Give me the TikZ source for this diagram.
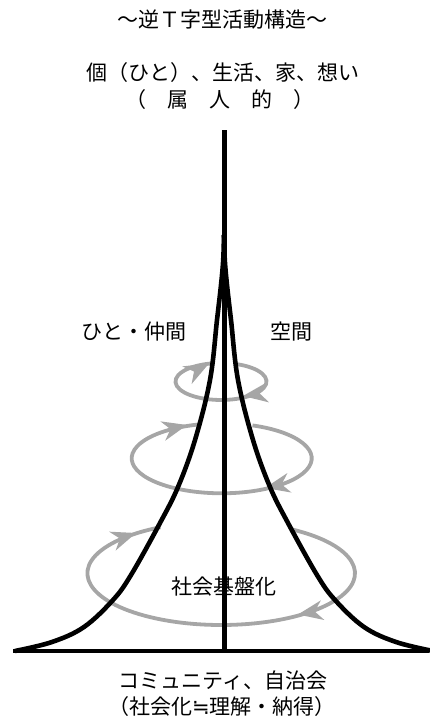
\documentclass[tikz,border=0pt]{standalone}
\usepackage{fontspec}
\setmainfont{Noto Sans CJK JP}
\newfontfamily\symfont{DejaVu Sans}
\usetikzlibrary{arrows.meta}
\definecolor{ringgray}{HTML}{A6A6A6}
\begin{document}
\begin{tikzpicture}[x=1pt,y=1pt,
  lbl/.style={inner sep=0pt, font=\fontsize{21}{26}\selectfont},
  blk/.style={line width=4.6pt, black},
  ring/.style={line width=3.8pt, draw=ringgray},
  ahead/.pic={\fill[ringgray] (0,0) -- (-25,10) -- (-17,0) -- (-25,-10) -- cycle;}
]
\useasboundingbox (0,0) rectangle (429,727);

% ring centres
\coordinate (c1) at (221,345.5);
\coordinate (c2) at (221.7,268.7);
\coordinate (c3) at (221.2,153.7);

% rings (visible parts)
\draw[ring] (c1) ++(70:45.5 and 18.5) arc[start angle=70,end angle=-258,x radius=45.5,y radius=18.5];
\draw[ring] (c2) ++(70:90 and 35) arc[start angle=70,end angle=-255,x radius=90,y radius=35];
\draw[ring] (c3) ++(58:133.8 and 51.7) arc[start angle=58,end angle=-243,x radius=133.8,y radius=51.7];

% arrow heads
\coordinate (a1) at (209,363.5);
\coordinate (a2) at (243,331);
\coordinate (a3) at (187,302);
\coordinate (a4) at (265,239);
\coordinate (a5) at (136,194);
\coordinate (a6) at (298,112.5);
\pic[rotate=28] at (a1) {ahead};
\pic[rotate=188] at (a2) {ahead};
\pic[rotate=14] at (a3) {ahead};
\pic[rotate=192] at (a4) {ahead};
\pic[rotate=19] at (a5) {ahead};
\pic[rotate=190] at (a6) {ahead};

% cone
\draw[blk] plot[smooth, tension=0.6] coordinates {(15,76) (52,85) (84,100) (113,127) (131,152) (160,204) (178,240) (195,287) (210,347) (217,407) (221,442) (223.2,467) (224,492)};
\draw[blk] plot[smooth, tension=0.6] coordinates {(433,76) (396,85) (364,100) (335,127) (317,152) (288,204) (270,240) (253,287) (238,347) (231,407) (227,442) (224.8,467) (224,492)};
\coordinate (top) at (224.5,597);
\coordinate (bot) at (224.5,76);
\coordinate (bl) at (13,76);
\coordinate (br) at (429,76);
\draw[blk] (bot) -- (top);
\draw[blk] (bl) -- (br);

% labels
\node[lbl] (title) at (222,707) {～逆Ｔ字型活動構造～};
\node[lbl] (l2) at (223,654) {個（ひと）、生活、家、想い};
\node[lbl] (l3) at (220,627) {（　属　人　的　）};
\node[lbl] (hito) at (134,395) {ひと・仲間};
\node[lbl] (kukan) at (291,395) {空間};
\node[lbl] (shakai) at (224,140) {社会基盤化};
\node[lbl] (comm) at (223,46) {コミュニティ、自治会};
\node[lbl] (l8) at (222,20) {（社会化{\symfont ≒}理解・納得）};
\end{tikzpicture}
\end{document}
